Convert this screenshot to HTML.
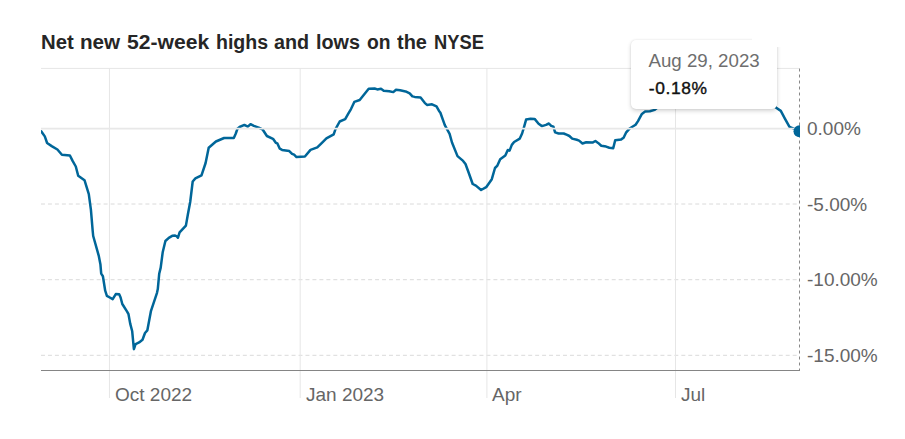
<!DOCTYPE html>
<html><head><meta charset="utf-8"><style>
html,body{margin:0;padding:0;background:#fff;width:905px;height:439px;overflow:hidden;font-family:"Liberation Sans",sans-serif}
.t{position:absolute;white-space:nowrap;line-height:1}
.tw{top:32px;font-size:20px;font-weight:bold;color:#262626;transform-origin:0 0}
.xl{font-size:19px;color:#666;top:385px}
.yl{font-size:19px;color:#666;left:807px}
#tip{position:absolute;left:631px;top:40px;width:146px;height:69px;background:#fff;border-radius:5px;box-shadow:0 0 2px rgba(0,0,0,0.1),0 2px 4px rgba(0,0,0,0.17)}
#mask{position:absolute;left:752px;top:28px;width:40px;height:19px;background:#fff}
#tdate{left:648.5px;top:52px;font-size:18.7px;color:#6e6e6e}
#tval{left:648.8px;top:79.6px;font-size:17.4px;font-weight:normal;color:#111;letter-spacing:0.6px;-webkit-text-stroke:0.4px #111}
svg{position:absolute;left:0;top:0}
</style></head><body>
<div class="t tw" style="left:41.38px;transform:scaleX(1.016)">Net</div>
<div class="t tw" style="left:80.07px;transform:scaleX(1.032)">new</div>
<div class="t tw" style="left:126.94px;transform:scaleX(1.056)">52-week</div>
<div class="t tw" style="left:215.52px;transform:scaleX(0.977)">highs</div>
<div class="t tw" style="left:274.20px;transform:scaleX(0.986)">and</div>
<div class="t tw" style="left:316.01px;transform:scaleX(0.988)">lows</div>
<div class="t tw" style="left:366.50px;transform:scaleX(0.963)">on</div>
<div class="t tw" style="left:397.00px;transform:scaleX(0.997)">the</div>
<div class="t tw" style="left:434.08px;transform:scaleX(0.915)">NYSE</div>

<svg width="905" height="439" viewBox="0 0 905 439">
<defs><clipPath id="c"><rect x="41" y="0" width="759" height="439"/></clipPath></defs>
<line x1="41" y1="68.4" x2="799" y2="68.4" stroke="#e6e6e6" stroke-width="1"/>
<line x1="41" y1="204" x2="798" y2="204" stroke="#dadada" stroke-width="1" stroke-dasharray="3.98,2.98"/>
<line x1="41" y1="279.7" x2="798" y2="279.7" stroke="#dadada" stroke-width="1" stroke-dasharray="3.98,2.98"/>
<line x1="41" y1="355.3" x2="798" y2="355.3" stroke="#dadada" stroke-width="1" stroke-dasharray="3.98,2.98"/>
<line x1="109.46" y1="68" x2="109.46" y2="398" stroke="#e6e6e6" stroke-width="1"/>
<line x1="300.2" y1="68" x2="300.2" y2="398" stroke="#e6e6e6" stroke-width="1"/>
<line x1="486.9" y1="68" x2="486.9" y2="398" stroke="#e6e6e6" stroke-width="1"/>
<line x1="675.5" y1="68" x2="675.5" y2="398" stroke="#e6e6e6" stroke-width="1"/>
<line x1="799.5" y1="68.5" x2="799.5" y2="370" stroke="#888" stroke-width="1" stroke-dasharray="3,3"/>
<path d="M41.2,131.3 L44.8,136.4 L47.1,143.0 L51.7,146.1 L57.4,149.5 L61.9,154.8 L69.9,155.5 L72.6,160.9 L75.8,166.5 L78.2,175.7 L84.5,180.2 L88.8,194.2 L90.9,209.6 L92.7,231.0 L93.2,236.0 L98.7,255.6 L100.4,264.2 L101.2,273.6 L102.9,276.2 L105.2,290.7 L106.9,295.8 L109.8,297.5 L112.7,299.2 L115.8,294.1 L119.2,294.3 L120.6,297.5 L122.3,304.0 L127.1,311.6 L128.5,314.2 L130.2,323.6 L132.2,331.3 L133.9,349.2 L135.6,344.1 L139.1,342.4 L142.5,339.8 L145.0,333.0 L147.3,330.4 L151.0,310.8 L157.0,292.8 L157.8,289.1 L159.2,273.8 L160.7,267.6 L162.7,252.3 L165.4,241.0 L168.8,237.8 L172.2,235.8 L175.1,235.5 L176.8,236.4 L177.9,237.8 L179.6,232.4 L185.9,225.6 L187.9,214.3 L190.2,202.0 L192.7,181.5 L195.4,178.4 L201.5,175.3 L205.6,163.0 L208.7,147.7 L215.9,141.5 L224.1,138.0 L233.8,137.9 L235.8,133.5 L237.5,128.7 L239.6,127.0 L244.4,124.9 L247.8,126.6 L250.5,124.2 L253.9,125.9 L258.7,127.6 L260.8,128.7 L262.8,129.7 L266.9,136.0 L273.0,138.8 L275.8,142.8 L277.4,143.4 L279.8,148.7 L282.1,149.9 L289.3,151.1 L292.1,153.9 L294.1,154.7 L296.5,157.1 L304.9,156.5 L310.5,149.9 L317.3,147.4 L321.9,142.8 L326.4,138.3 L333.7,134.3 L335.5,129.2 L339.7,121.5 L345.2,119.2 L348.3,113.7 L351.0,109.1 L354.3,101.9 L359.7,100.0 L368.7,88.7 L374.6,88.5 L377.3,89.4 L381.0,88.8 L383.7,90.7 L389.2,91.2 L393.3,92.1 L396.0,89.8 L400.1,90.3 L405.6,91.4 L409.7,93.4 L412.4,96.4 L414.7,96.9 L420.6,97.6 L424.7,102.8 L427.0,104.9 L432.0,104.3 L436.5,106.4 L439.3,111.4 L440.3,112.5 L444.8,125.1 L449.6,133.8 L452.0,142.5 L457.5,156.1 L463.1,160.9 L465.5,164.0 L468.7,172.8 L472.7,184.0 L475.9,185.6 L481.1,190.0 L486.2,187.2 L491.8,179.2 L495.0,168.0 L497.4,165.6 L500.2,159.3 L505.3,155.5 L507.8,150.0 L509.6,150.6 L511.8,144.9 L514.1,142.0 L519.8,138.6 L522.1,133.5 L523.8,127.8 L526.1,119.6 L530.6,118.7 L534.6,118.9 L538.6,123.8 L542.0,126.1 L546.0,124.9 L548.9,123.5 L551.2,125.9 L553.4,126.7 L555.1,132.4 L558.6,133.5 L563.7,133.5 L567.1,134.9 L569.4,136.0 L572.2,138.6 L576.8,139.8 L579.1,140.6 L582.5,143.5 L586.2,142.3 L592.5,142.6 L595.4,141.0 L598.1,142.9 L601.3,145.8 L606.1,146.6 L609.3,147.7 L613.2,148.2 L615.2,140.2 L621.2,139.4 L623.6,137.8 L626.0,132.7 L630.0,128.2 L635.6,124.7 L638.0,121.1 L641.9,113.9 L645.1,111.5 L649.9,111.2 L654.7,109.9 L662.0,104.0 L700.0,98.0 L765.0,98.0 L776.2,107.8 L780.8,110.9 L784.9,118.6 L789.5,126.8 L793.1,128.3 L799.5,131.2" fill="none" stroke="#006699" stroke-width="2.5" stroke-linejoin="round" stroke-linecap="round" clip-path="url(#c)"/>
<line x1="41" y1="128.6" x2="798" y2="128.6" stroke="#e8e8e8" stroke-width="1.6"/>
<circle cx="799.5" cy="131.2" r="6" fill="#006699" clip-path="url(#c)"/>
<line x1="41" y1="370.5" x2="800" y2="370.5" stroke="#858585" stroke-width="1.2"/>
</svg>
<div class="t xl" style="left:115px">Oct 2022</div>
<div class="t xl" style="left:306px">Jan 2023</div>
<div class="t xl" style="left:492px">Apr</div>
<div class="t xl" style="left:681px">Jul</div>
<div class="t yl" style="top:119px">0.00%</div>
<div class="t yl" style="top:195px">-5.00%</div>
<div class="t yl" style="top:270px">-10.00%</div>
<div class="t yl" style="top:346px">-15.00%</div>
<div id="tip"></div>
<div id="mask"></div>
<div class="t" id="tdate">Aug 29, 2023</div>
<div class="t" id="tval">-0.18%</div>
</body></html>
